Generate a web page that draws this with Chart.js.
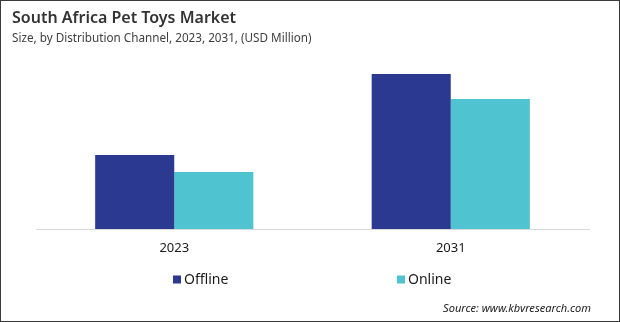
<!DOCTYPE html>
<html>
<head>
<meta charset="utf-8">
<script src="https://cdn.jsdelivr.net/npm/chart.js@4.4.1/dist/chart.umd.min.js"></script>
<style>
  html, body { margin: 0; padding: 0; background: #ffffff; }
  #wrap { width: 620px; height: 322px; position: relative; }
</style>
</head>
<body>
<div id="wrap"><canvas id="c" width="620" height="322"></canvas></div>
<script>
// Market size by distribution channel (USD Million)
const years = ['2023', '2031'];
const offline = [14.8, 31.0];
const online = [11.4, 26.0];

const titleText = 'South Africa Pet Toys Market';
const subtitleText = 'Size, by Distribution Channel, 2023, 2031, (USD Million)';
const sourceText = 'Source: www.kbvresearch.com';

const OFFLINE_COLOR = '#2B3990';
const ONLINE_COLOR = '#4FC3CF';
const FONT = '"Noto Sans", "Open Sans", sans-serif';

// Headings, legend, source note and frame
const decor = {
  id: 'decor',
  afterDraw(chart) {
    const ctx = chart.ctx;
    ctx.save();
    ctx.fillStyle = '#333333';
    ctx.textBaseline = 'alphabetic';
    ctx.textAlign = 'left';
    ctx.font = '600 16px ' + FONT;
    ctx.fillText(titleText, 12, 23);
    ctx.font = '11.7px ' + FONT;
    ctx.fillStyle = '#404040';
    ctx.fillText(subtitleText, 12, 42);

    // legend
    const items = [
      { x: 173, ds: chart.data.datasets[0] },
      { x: 397, ds: chart.data.datasets[1] }
    ];
    ctx.font = '14px ' + FONT;
    ctx.textBaseline = 'middle';
    items.forEach(it => {
      ctx.fillStyle = it.ds.backgroundColor;
      ctx.fillRect(it.x, 275.5, 8, 8);
      ctx.fillStyle = '#1a1a1a';
      ctx.fillText(it.ds.label, it.x + 11, 280);
    });

    // source
    ctx.font = 'italic 11.1px ' + FONT;
    ctx.fillStyle = '#1a1a1a';
    ctx.textAlign = 'right';
    ctx.fillText(sourceText, 591, 309);

    // frame
    ctx.strokeStyle = '#3a3a3a';
    ctx.lineWidth = 1;
    ctx.strokeRect(0.5, 0.5, chart.width - 1, chart.height - 1);
    ctx.restore();
  }
};

new Chart(document.getElementById('c'), {
  type: 'bar',
  data: {
    labels: years,
    datasets: [
      { label: 'Offline', data: offline, backgroundColor: OFFLINE_COLOR },
      { label: 'Online', data: online, backgroundColor: ONLINE_COLOR }
    ]
  },
  options: {
    responsive: false,
    animation: false,
    events: [],
    layout: { padding: { top: 54, left: 36, right: 31, bottom: 63 } },
    datasets: {
      bar: { categoryPercentage: 0.572, barPercentage: 1.0, borderWidth: 0 }
    },
    plugins: {
      legend: { display: false },
      title: { display: false },
      tooltip: { enabled: false }
    },
    scales: {
      x: {
        grid: { display: false, drawTicks: false },
        border: { display: true, color: '#d9d9d9', width: 1 },
        ticks: { color: '#1a1a1a', font: { family: FONT, size: 13 }, padding: 11 },
        afterFit(scale) { scale.height = 30; }
      },
      y: {
        display: false,
        min: 0,
        max: 35
      }
    }
  },
  plugins: [decor]
});
</script>
</body>
</html>
